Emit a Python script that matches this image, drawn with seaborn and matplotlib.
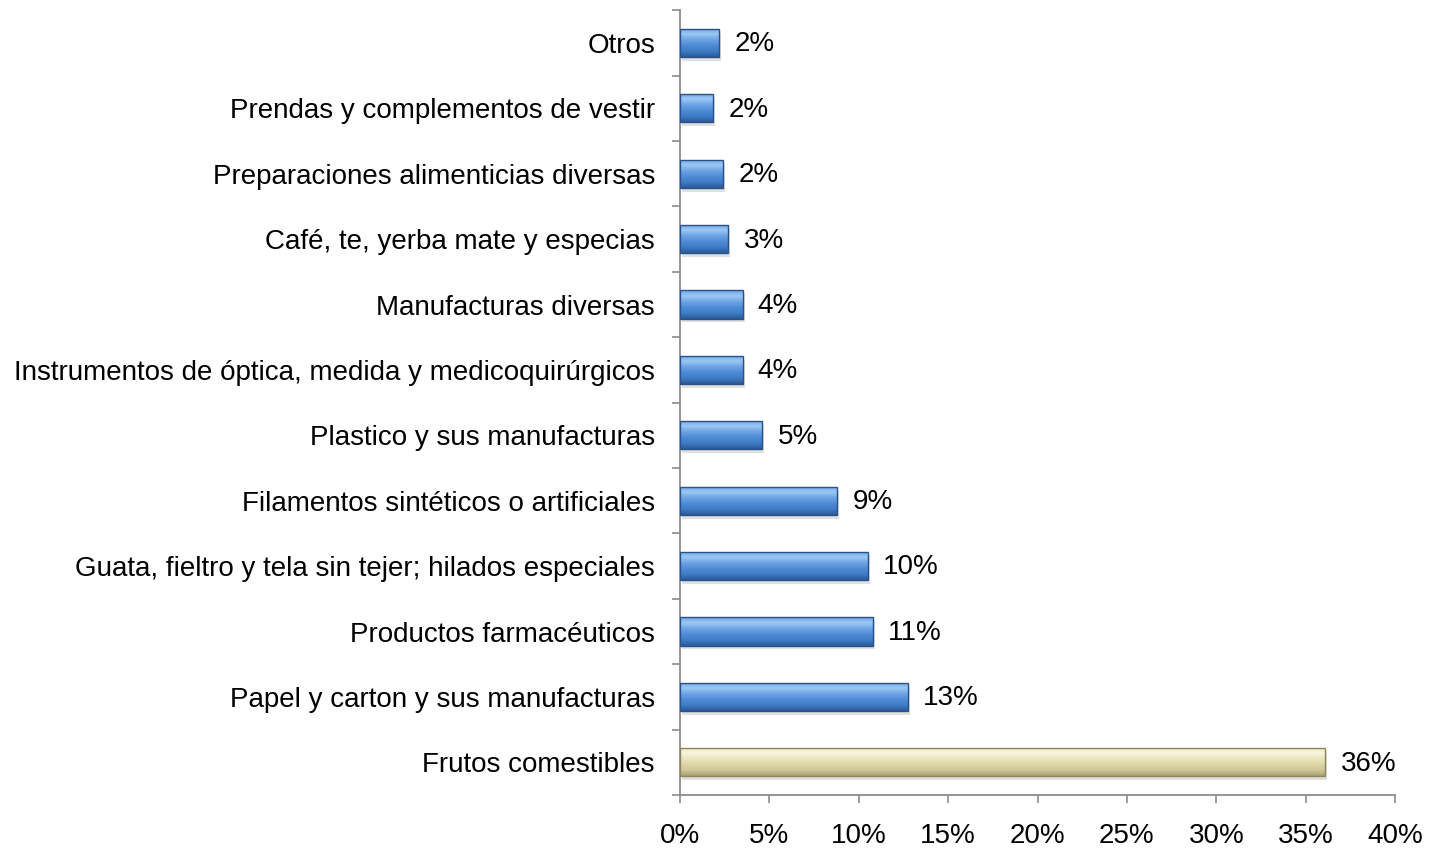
import numpy as np
import pandas as pd
import matplotlib
matplotlib.use("Agg")
import matplotlib.pyplot as plt
import seaborn as sns
from matplotlib.colors import LinearSegmentedColormap
from matplotlib.ticker import FixedLocator, PercentFormatter

# data (share of total, %)
categories = [
    "Otros",
    "Prendas y complementos de vestir",
    "Preparaciones alimenticias diversas",
    "Café, te, yerba mate y especias",
    "Manufacturas diversas",
    "Instrumentos de óptica, medida y medicoquirúrgicos",
    "Plastico y sus manufacturas",
    "Filamentos sintéticos o artificiales",
    "Guata, fieltro y tela sin tejer; hilados especiales",
    "Productos farmacéuticos",
    "Papel y carton y sus manufacturas",
    "Frutos comestibles",
]
shares = [2.2, 1.85, 2.4, 2.7, 3.5, 3.5, 4.6, 8.8, 10.5, 10.8, 12.75, 36.1]
value_labels = ["2%", "2%", "2%", "3%", "4%", "4%", "5%", "9%", "10%", "11%", "13%", "36%"]
highlight = "Frutos comestibles"

df = pd.DataFrame({"categoria": categories, "share": shares})
df["grupo"] = np.where(df["categoria"] == highlight, "hl", "base")

sns.set_theme(style="white")
plt.rcParams["font.family"] = ["Liberation Sans", "DejaVu Sans"]
plt.rcParams["text.color"] = "black"
plt.rcParams["xtick.labelcolor"] = "black"
plt.rcParams["ytick.labelcolor"] = "black"

fig = plt.figure(figsize=(14.37, 8.52), dpi=100)
ax = fig.add_axes([0.4732, 0.0669, 0.4976, 0.9211])

palette = {"base": "#4a86d0", "hl": "#ddd6a8"}
sns.barplot(data=df, x="share", y="categoria", hue="grupo", palette=palette,
            dodge=False, legend=False, width=0.43, ax=ax, orient="h")

# bevel look: vertical gradient clipped to each bar (light on top, dark below)
grad_blue = LinearSegmentedColormap.from_list(
    "b", ["#6fa6e6", "#9cc8f4", "#6ea4e6", "#4f8cd6", "#3f7cc7", "#2b5b98"])
grad_beige = LinearSegmentedColormap.from_list(
    "y", ["#ece6c2", "#f8f5de", "#ebe5c0", "#ddd6a8", "#cfc798", "#a8a070"])
grad = np.linspace(0, 1, 64).reshape(-1, 1)

bars = [p for p in ax.patches if p.get_width() > 0]
bars.sort(key=lambda p: p.get_y())
hl_value = df.loc[df["grupo"] == "hl", "share"].iloc[0]
for p in bars:
    x0, y0 = p.get_x(), p.get_y()
    w, h = p.get_width(), p.get_height()
    is_hl = np.isclose(w, hl_value)
    cmap = grad_beige if is_hl else grad_blue
    edge = "#8c8660" if is_hl else "#2a5288"
    # soft shadow
    ax.add_patch(plt.Rectangle((x0 + 0.12, y0 + 0.06), w, h, color="#000000",
                               alpha=0.12, lw=0, zorder=1.5))
    im = ax.imshow(grad, extent=(x0, x0 + w, y0 + h, y0), aspect="auto",
                   cmap=cmap, zorder=2.5, interpolation="bicubic")
    im.set_clip_path(p)
    p.set_zorder(2)
    p.set_facecolor("none")
    p.set_linewidth(0)
    ax.add_patch(plt.Rectangle((x0, y0), w, h, fill=False, edgecolor=edge,
                               lw=1.0, zorder=3))

for p, lab in zip(bars, value_labels):
    ax.annotate(lab, (p.get_x() + p.get_width(), p.get_y() + p.get_height() / 2),
                xytext=(11, -1), textcoords="offset points", va="center",
                ha="left", fontsize=20, color="black")

ax.set_xlim(0, 40)
ax.set_ylim(len(categories) - 0.5, -0.5)
ax.xaxis.set_major_locator(FixedLocator(np.arange(0, 41, 5)))
ax.xaxis.set_major_formatter(PercentFormatter(decimals=0))
ax.yaxis.set_minor_locator(FixedLocator(np.arange(-0.5, len(categories), 1)))

ax.set_xlabel("")
ax.set_ylabel("")
for side in ["top", "right"]:
    ax.spines[side].set_visible(False)
for side in ["left", "bottom"]:
    ax.spines[side].set_color("#8c8c8c")
    ax.spines[side].set_linewidth(1.3)

ax.tick_params(axis="x", which="major", direction="out", length=6, width=1.2,
               color="#8c8c8c", pad=14, labelsize=20, bottom=True, labelcolor="black")
ax.tick_params(axis="y", which="major", length=0, pad=18, labelsize=20, left=False,
               labelcolor="black")
ax.tick_params(axis="y", which="minor", direction="out", length=6, width=1.2,
               color="#8c8c8c", left=True)
ax.grid(False)

fig.savefig("out.png", dpi=100)
